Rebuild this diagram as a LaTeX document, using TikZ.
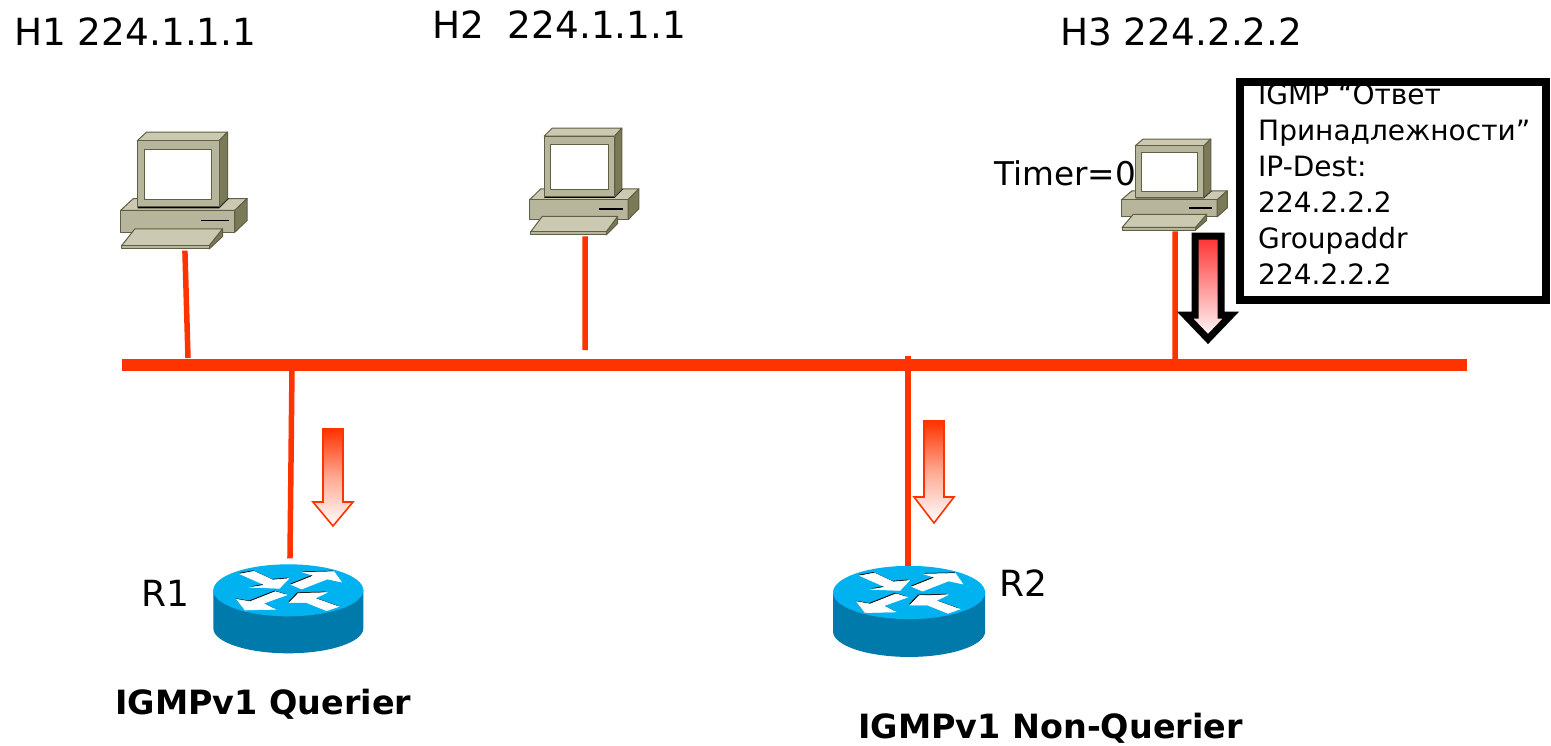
\documentclass[tikz,border=0pt]{standalone}
\usepackage{fontspec}
\setmainfont{DejaVu Sans}
\usepackage{xcolor}
\definecolor{bus00}{HTML}{FF3300}
\definecolor{send00}{HTML}{FF3030}
\definecolor{pc_front}{HTML}{B7B59B}
\definecolor{pc_top}{HTML}{CBC9B1}
\definecolor{pc_side}{HTML}{7A7A58}
\definecolor{pc_edge}{HTML}{5F5F45}
\definecolor{rt_top}{HTML}{00B2F0}
\definecolor{rt_side}{HTML}{0079AB}
\usepackage{tikz}
\usetikzlibrary{positioning}
\tikzstyle{host_label} = [anchor=base west, inner sep=0pt, font=\fontsize{37.4}{40}\selectfont]
\tikzstyle{name_label} = [anchor=base west, inner sep=0pt, font=\fontsize{33.4}{40}\selectfont\bfseries]
\tikzstyle{bus_line} = [line width=12pt, bus00]
\tikzstyle{drop_line} = [line width=5.5pt, bus00]
\tikzstyle{flow_arr} = [line width=1.6pt, draw=bus00, top color=bus00, bottom color=white, middle color=bus00!42!white, miter limit=10]
\tikzstyle{send_arr} = [line width=7pt, draw=black, top color=send00, bottom color=white, middle color=send00!50!white, miter limit=10]
\tikzstyle{pc_part} = [draw=pc_edge, line width=1pt, line join=round]
\tikzset{
  pc/.pic={
    \filldraw[pc_part,fill=pc_top] (62,300) -- (100,265) -- (442,265) -- (405,300) -- cycle;
    \filldraw[pc_part,fill=pc_front] (62,300) rectangle (405,365);
    \filldraw[pc_part,fill=pc_side] (405,300) -- (442,265) -- (442,330) -- (405,365) -- cycle;
    \draw[black,line width=1.6pt] (303,330) -- (387,330);
    \fill[black] (113,289) -- (358,289) -- (378,265) -- (388,265) -- (358,294) -- (113,294) -- cycle;
    \filldraw[pc_part,fill=pc_top] (112,93) -- (140,67) -- (383,67) -- (358,93) -- cycle;
    \filldraw[pc_part,fill=pc_side] (358,93) -- (383,67) -- (383,265) -- (358,290) -- cycle;
    \filldraw[pc_part,fill=pc_front] (112,93) rectangle (358,290);
    \filldraw[pc_part,fill=white] (134,119) rectangle (335,268);
    \filldraw[pc_part,fill=pc_side] (328,405) -- (368,355) -- (368,378) -- (328,415) -- cycle;
    \filldraw[pc_part,fill=pc_top] (65,405) -- (105,355) -- (368,355) -- (328,405) -- cycle;
    \filldraw[pc_part,fill=pc_front] (65,405) rectangle (328,415);
    \coordinate (-port) at (255,420);
  },
  router/.pic={
    \fill[rt_side] (250,540) -- (250,655) arc[start angle=180,end angle=0,x radius=225,y radius=75] -- (700,540) -- cycle;
    \fill[rt_top] (475,541) ellipse[x radius=225,y radius=78];
    \foreach \flowpts in {
      {(330,492) -- (372,484) -- (428,510) -- (476,506) -- (448,535) -- (366,532) -- (405,525)},
      {(484,524) -- (552,497) -- (520,487) -- (612,485) -- (634,516) -- (592,507) -- (515,537)},
      {(470,555) -- (400,580) -- (435,598) -- (345,600) -- (320,568) -- (360,575) -- (436,545)},
      {(625,590) -- (590,602) -- (530,578) -- (478,578) -- (505,550) -- (590,548) -- (555,565)}}
      {\fill[black] [shift={(-3,-3)}] \flowpts -- cycle;
       \filldraw[white,line width=.6pt] \flowpts -- cycle;}
    \coordinate (-top) at (480,445);
  }
}
% arrow pointing down: centre x, top y, shoulder y, tip y, half shaft, half head
\newcommand{\downarr}[7]{
  \path[#1] (#2-#6,#3) -- (#2+#6,#3) -- (#2+#6,#4) -- (#2+#7,#4) -- (#2,#5) -- (#2-#7,#4) -- (#2-#6,#4) -- cycle;
}
\begin{document}
\begin{tikzpicture}[x=1pt,y=-1pt]
    \useasboundingbox (0,0) rectangle (1551,745);
    \fill[white] (0,0) rectangle (1551,745);
    \node (h1)[host_label] at (14,45) {H1 224.1.1.1};
    \node (h2)[host_label] at (432,38) {H2\ \ 224.1.1.1};
    \node (h3)[host_label] at (1060,45) {H3 224.2.2.2};
    \pic[xscale=.333,yscale=.336] (pc1) at (100,109.5) {pc};
    \pic[xscale=.287,yscale=.307] (pc2) at (512,107.5) {pc};
    \pic[xscale=.279,yscale=.2615] (pc3) at (1104,121.5) {pc};
    \node (timer)[host_label,font=\fontsize{32.7}{40}\selectfont] at (994,185) {Timer=0};
    \coordinate (bus_w) at (122,365);
    \coordinate (bus_e) at (1467,365);
    \coordinate (tap1) at (188,358);
    \coordinate (tap2) at (585,350);
    \coordinate (tap3) at (1175,362);
    \coordinate (tap4) at (292,368);
    \coordinate (tap5) at (908,356);
    \coordinate (r2_in) at (908,568);
    \draw [bus_line] (bus_w) -- (bus_e);
    \draw [drop_line] (pc1-port) -- (tap1);
    \draw [drop_line] (pc2-port) -- (tap2);
    \draw [drop_line] (pc3-port) -- (tap3);
    \draw [drop_line] (tap5) -- (r2_in);
    \pic[scale=.3333] (r1) at (130,410) {router};
    \pic[xscale=.338,yscale=.341] (r2) at (748.5,408) {router};
    \draw [drop_line] (tap4) -- (r1-top);
    \node (r1name)[host_label,font=\fontsize{36}{40}\selectfont] at (141,606) {R1};
    \node (r2name)[host_label,font=\fontsize{36}{40}\selectfont] at (999,596) {R2};
    \node (q1)[name_label] at (115,714) {IGMPv1 Querier};
    \node (q2)[name_label] at (858,738) {IGMPv1 Non-Querier};
    \downarr{flow_arr}{333}{429}{502}{526}{10}{20}
    \downarr{flow_arr}{934}{421}{497}{523}{10}{20}
    \downarr{send_arr}{1208}{236}{315}{339}{13}{23}
    \node (msgtext)[anchor=north west, inner sep=0pt, align=left, font=\fontsize{28}{36}\selectfont] at (1258,84)
      {IGMP “Ответ\\Принадлежности”\\IP-Dest:\\224.2.2.2\\Groupaddr\\224.2.2.2};
    \node (msgbox)[anchor=north west, draw=black, line width=8pt, inner sep=0pt, minimum width=306pt, minimum height=218pt] at (1236,78) {};
\end{tikzpicture}
\end{document}
